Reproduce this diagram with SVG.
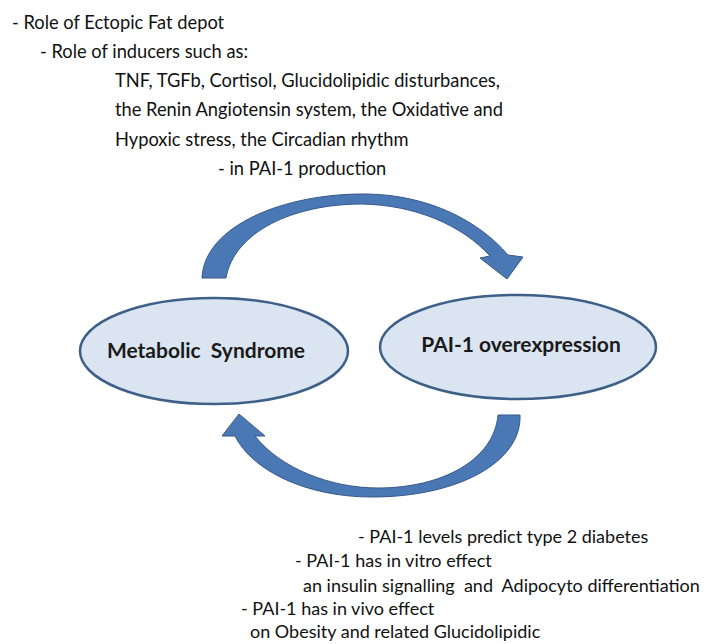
<svg xmlns="http://www.w3.org/2000/svg" width="715" height="644" viewBox="0 0 715 644">
<style>
.t{font-family:Lato,"Liberation Sans",sans-serif;font-size:18.3px;fill:#111111}
.b{font-family:Lato,"Liberation Sans",sans-serif;font-size:18px;fill:#111111}
.n{font-family:Lato,"Liberation Sans",sans-serif;font-size:21px;font-weight:bold;fill:#1a1a1a;text-anchor:middle}
.e{fill:#dbe5f1;stroke:#3d5f88;stroke-width:2.5}
.a{fill:#4a78b4;stroke:#36598a;stroke-width:1}
</style>
<rect width="715" height="644" fill="#ffffff"/>
<g id="top-text">
<text class="t" x="12" y="29">- Role of Ectopic Fat depot</text>
<text class="t" x="40" y="58">- Role of inducers such as:</text>
<text class="t" x="115" y="87">TNF, TGFb, Cortisol, Glucidolipidic disturbances,</text>
<text class="t" x="115" y="116">the Renin Angiotensin system, the Oxidative and</text>
<text class="t" x="115" y="146">Hypoxic stress, the Circadian rhythm</text>
<text class="t" x="218" y="175">- in PAI-1 production</text>
</g>
<g id="connectors">
<path class="a" d="M202,278 C204,226 284,193 367,194 C430,195 480,222 508,255 L523,257 L507,279 L480,258 L490,256 C462,225 415,205 362,204 C293,204 234,232 226,278 Z"/>
<path class="a" d="M520,415 C522,462 458,497 372,497 C305,497 252,470 235,436 L222,436 L239,414 L265,436 L255,436 C280,468 330,488 378,488 C442,488 494,460 498,415 Z"/>
</g>
<g id="metabolic-syndrome">
<ellipse class="e" cx="214" cy="351" rx="134" ry="53"/>
<text class="n" x="206" y="358" xml:space="preserve">Metabolic  Syndrome</text>
</g>
<g id="pai1-overexpression">
<ellipse class="e" cx="518" cy="347" rx="138" ry="52"/>
<text class="n" x="521" y="352">PAI-1 overexpression</text>
</g>
<g id="bottom-text">
<text class="b" x="358" y="543">- PAI-1 levels predict type 2 diabetes</text>
<text class="b" x="295" y="567">- PAI-1 has in vitro effect</text>
<text class="b" x="303" y="592" xml:space="preserve">an insulin signalling  and  Adipocyto differentiation</text>
<text class="b" x="241" y="615">- PAI-1 has in vivo effect</text>
<text class="b" x="250" y="638">on Obesity and related Glucidolipidic</text>
</g>
</svg>
